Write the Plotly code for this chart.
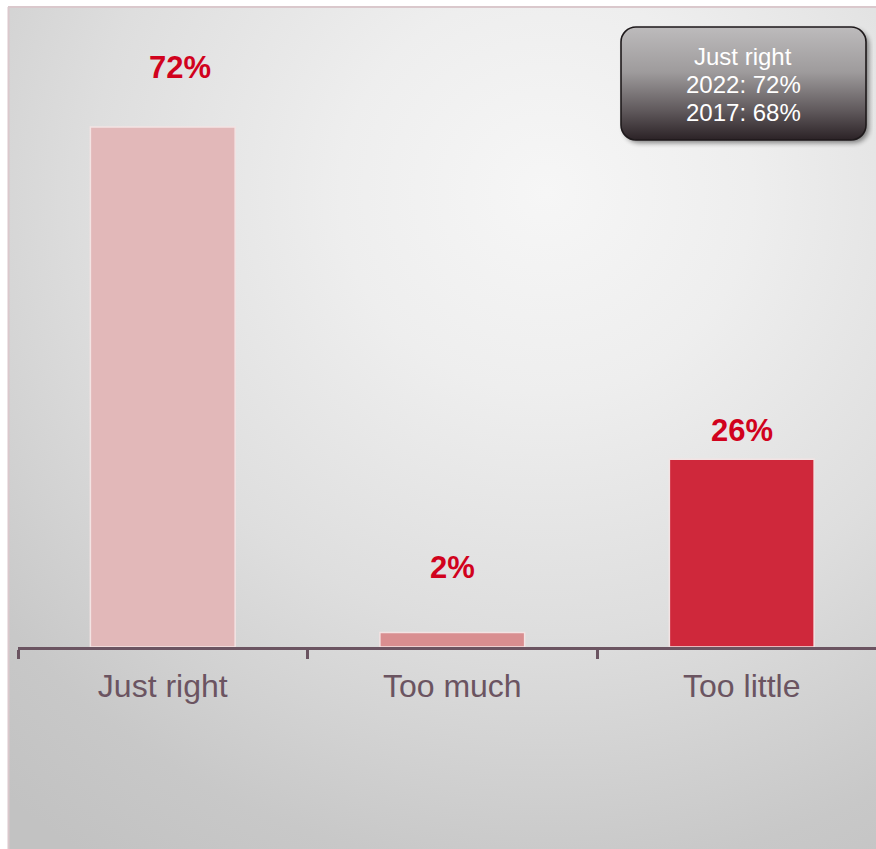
import base64
import plotly.graph_objects as go

# Survey answers and their shares (%)
categories = ["Just right", "Too much", "Too little"]
shares_2022 = [72, 2, 26]
callout_title = "Just right"
callout_years = ["2022", "2017"]
callout_values = [72, 68]

bar_colors = ["#e2b8b9", "#d98e90", "#cf283b"]
label_offsets = [59, 65, 29]  # px between bar top and value label centre
label_xshifts = [17, 0, 0]    # px sideways nudge of each value label

W, H = 876, 849
FONT = "Liberation Sans, Arial, sans-serif"


def svg_uri(svg):
    return "data:image/svg+xml;base64," + base64.b64encode(svg.encode()).decode()


# Soft grey radial backdrop for the chart area
bg_svg = """<svg xmlns='http://www.w3.org/2000/svg' width='868' height='842' viewBox='0 0 868 842' preserveAspectRatio='none'>
<defs><radialGradient id='g' cx='0.62' cy='0.22' r='0.95' gradientUnits='objectBoundingBox'>
<stop offset='0' stop-color='#f6f6f6'/>
<stop offset='0.25' stop-color='#eeeeee'/>
<stop offset='0.55' stop-color='#dedede'/>
<stop offset='0.85' stop-color='#c8c8c8'/>
<stop offset='1' stop-color='#c2c2c2'/>
</radialGradient></defs>
<rect x='0' y='0' width='868' height='842' fill='url(#g)'/>
</svg>"""

# Rounded dark callout with a vertical gradient and drop shadow
box_svg = """<svg xmlns='http://www.w3.org/2000/svg' width='256' height='126' viewBox='0 0 256 126'>
<defs>
<linearGradient id='b' x1='0' y1='0' x2='0' y2='1'>
<stop offset='0' stop-color='#bdbbbc'/>
<stop offset='0.4' stop-color='#9e9b9c'/>
<stop offset='0.75' stop-color='#5e575a'/>
<stop offset='1' stop-color='#2b2226'/>
</linearGradient>
<filter id='s' x='-10%' y='-10%' width='130%' height='140%'>
<feGaussianBlur stdDeviation='2.5'/>
</filter>
</defs>
<rect x='7' y='7' width='245' height='113' rx='15' ry='15' fill='#000' opacity='0.45' filter='url(#s)'/>
<rect x='4' y='4' width='245' height='113' rx='15' ry='15' fill='url(#b)' stroke='#1e191b' stroke-width='1.6'/>
</svg>"""

fig = go.Figure()
fig.add_trace(go.Bar(
    x=categories,
    y=shares_2022,
    width=0.5,
    marker=dict(color=bar_colors, line=dict(color="#f3e3e3", width=1.5)),
    hoverinfo="skip",
))

annotations = []
for cat, val, off, dx in zip(categories, shares_2022, label_offsets, label_xshifts):
    annotations.append(dict(
        x=cat, y=val, xref="x", yref="y", text=f"{val}%", showarrow=False,
        yshift=off, xshift=dx, yanchor="middle",
        font=dict(family=FONT, size=31, color="#d1021d", weight="bold"),
    ))

callout_lines = [callout_title] + [f"{y}: {v}%" for y, v in zip(callout_years, callout_values)]
for i, line in enumerate(callout_lines):
    annotations.append(dict(
        x=743 / W, y=1 - (56 + 28 * i) / H, xref="paper", yref="paper",
        text=line, showarrow=False, xanchor="center", yanchor="middle",
        font=dict(family=FONT, size=24, color="#ffffff"),
    ))

px_per_pct = 520 / 72
y_top = (647 - 7) / px_per_pct
x_right = 2.5 - (886.5 - 876) / 289.5

fig.update_layout(
    width=W, height=H,
    margin=dict(l=0, r=0, t=0, b=0),
    paper_bgcolor="#ffffff",
    plot_bgcolor="rgba(0,0,0,0)",
    showlegend=False,
    bargap=0.5,
    xaxis=dict(
        domain=[18 / W, 1], range=[-0.5, x_right],
        showline=True, linecolor="#6b5461", linewidth=3,
        ticks="outside", tickson="boundaries", ticklen=9, tickwidth=3, tickcolor="#6b5461",
        ticklabelstandoff=9,
        tickfont=dict(family=FONT, size=32, color="#6b5461"),
        showgrid=False, zeroline=False, automargin=False, fixedrange=True,
    ),
    yaxis=dict(
        domain=[(H - 647) / H, (H - 7) / H], range=[0, y_top],
        visible=False, showgrid=False, zeroline=False, fixedrange=True,
    ),
    images=[
        dict(source=svg_uri(bg_svg), xref="paper", yref="paper",
             x=8 / W, y=1 - 7 / H, sizex=868 / W, sizey=842 / H,
             sizing="stretch", xanchor="left", yanchor="top", layer="below"),
        dict(source=svg_uri(box_svg), xref="paper", yref="paper",
             x=617 / W, y=1 - 23 / H, sizex=256 / W, sizey=126 / H,
             sizing="stretch", xanchor="left", yanchor="top", layer="below"),
    ],
    shapes=[
        dict(type="line", xref="paper", yref="paper", x0=8 / W, x1=1, y0=1 - 7 / H, y1=1 - 7 / H,
             line=dict(color="#dac8cc", width=2), layer="below"),
        dict(type="line", xref="paper", yref="paper", x0=8.5 / W, x1=8.5 / W, y0=0, y1=1 - 7 / H,
             line=dict(color="#dac8cc", width=2), layer="below"),
    ],
    annotations=annotations,
)

fig.write_html("out.html")
